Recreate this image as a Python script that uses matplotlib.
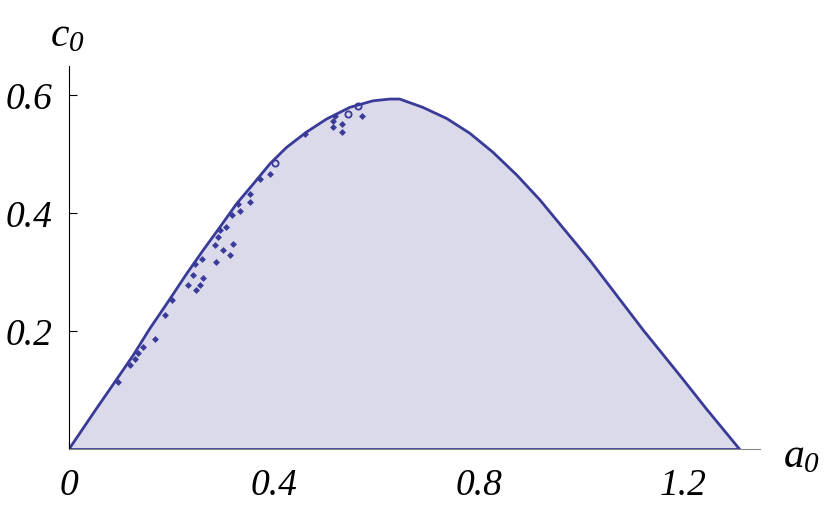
import matplotlib
matplotlib.use("Agg")
import matplotlib.pyplot as plt
import numpy as np

# boundary curve c0(a0)
a_edge = [0.0, 0.002, 0.054, 0.0898, 0.1257, 0.158, 0.191, 0.23, 0.262, 0.295,
          0.3275, 0.36, 0.3926, 0.425, 0.464, 0.503, 0.549, 0.594, 0.627, 0.646,
          0.691, 0.738, 0.783, 0.828, 0.875, 0.92, 1.02, 1.1217,
          1.193, 1.246, 1.3105]
c_edge = [0.0, 0.003, 0.0697, 0.1146, 0.16, 0.205, 0.247, 0.298, 0.3376, 0.377,
          0.4166, 0.45, 0.4843, 0.512, 0.538, 0.56, 0.58, 0.591, 0.594, 0.594,
          0.58, 0.561, 0.536, 0.504, 0.465, 0.423, 0.318, 0.2025,
          0.126, 0.068, 0.0]

# small islands scattered just under the left edge
a_dots = [0.096, 0.119, 0.129, 0.135, 0.145, 0.168, 0.1875, 0.2005, 0.233, 0.243,
          0.262, 0.256, 0.249, 0.246, 0.259, 0.288, 0.301, 0.3145, 0.321, 0.2916,
          0.285, 0.295, 0.307, 0.318, 0.331, 0.334, 0.3535, 0.3535, 0.373, 0.3926,
          0.461, 0.516, 0.516, 0.5195, 0.5326, 0.5326, 0.5716]
c_dots = [0.115, 0.143, 0.154, 0.163, 0.174, 0.188, 0.2276, 0.253, 0.278, 0.295,
          0.29, 0.278, 0.27, 0.315, 0.3235, 0.318, 0.3376, 0.329, 0.349, 0.36,
          0.346, 0.3714, 0.377, 0.397, 0.4166, 0.405, 0.419, 0.4335, 0.459, 0.467,
          0.535, 0.546, 0.5575, 0.566, 0.552, 0.5377, 0.566]

# tiny open rings
a_rings = [0.402, 0.5455, 0.565]
c_rings = [0.485, 0.569, 0.583]

xticks = [0, 0.4, 0.8, 1.2]
xlabels = ["0", "0.4", "0.8", "1.2"]
yticks = [0.2, 0.4, 0.6]
ylabels = ["0.2", "0.4", "0.6"]

line_col = "#3a3a98"
fill_col = "#dadaeb"

plt.rcParams["font.family"] = "Liberation Serif"
plt.rcParams["mathtext.fontset"] = "custom"
plt.rcParams["mathtext.rm"] = "Liberation Serif:italic"
plt.rcParams["mathtext.it"] = "Liberation Serif:italic"

fig = plt.figure(figsize=(8.3, 5.16), dpi=100)
ax = fig.add_axes([0.0831, 0.1289, 0.8326, 0.7432])

ax.fill(a_edge, c_edge, facecolor=fill_col, edgecolor=line_col, lw=2,
        joinstyle="round", zorder=2)
ax.plot(a_dots, c_dots, ls="none", marker="D", ms=3.5, mew=0, color=line_col, zorder=3)
ax.plot(a_rings, c_rings, ls="none", marker="o", ms=4.5, mfc="none", mew=1.3,
        color=line_col, zorder=3)

ax.set_xlim(0, 1.35)
ax.set_ylim(0, 0.65)

for s in ["top", "right"]:
    ax.spines[s].set_visible(False)
ax.spines["left"].set_color("black")
ax.spines["bottom"].set_color("#888888")

ax.set_xticks(xticks)
ax.set_xticklabels(xlabels, fontsize=27, fontstyle="italic")
ax.set_yticks(yticks)
ax.set_yticklabels(ylabels, fontsize=27, fontstyle="italic")
ax.tick_params(axis="both", direction="in", length=6, width=0.8)
ax.tick_params(axis="x", pad=14)
ax.tick_params(axis="y", pad=12, colors="black")

fig.text(0.081, 0.93, r"$c_0$", fontsize=30, ha="center", va="center")
fig.text(0.966, 0.114, r"$a_0$", fontsize=30, ha="center", va="center")

fig.savefig("out.png", dpi=100)
